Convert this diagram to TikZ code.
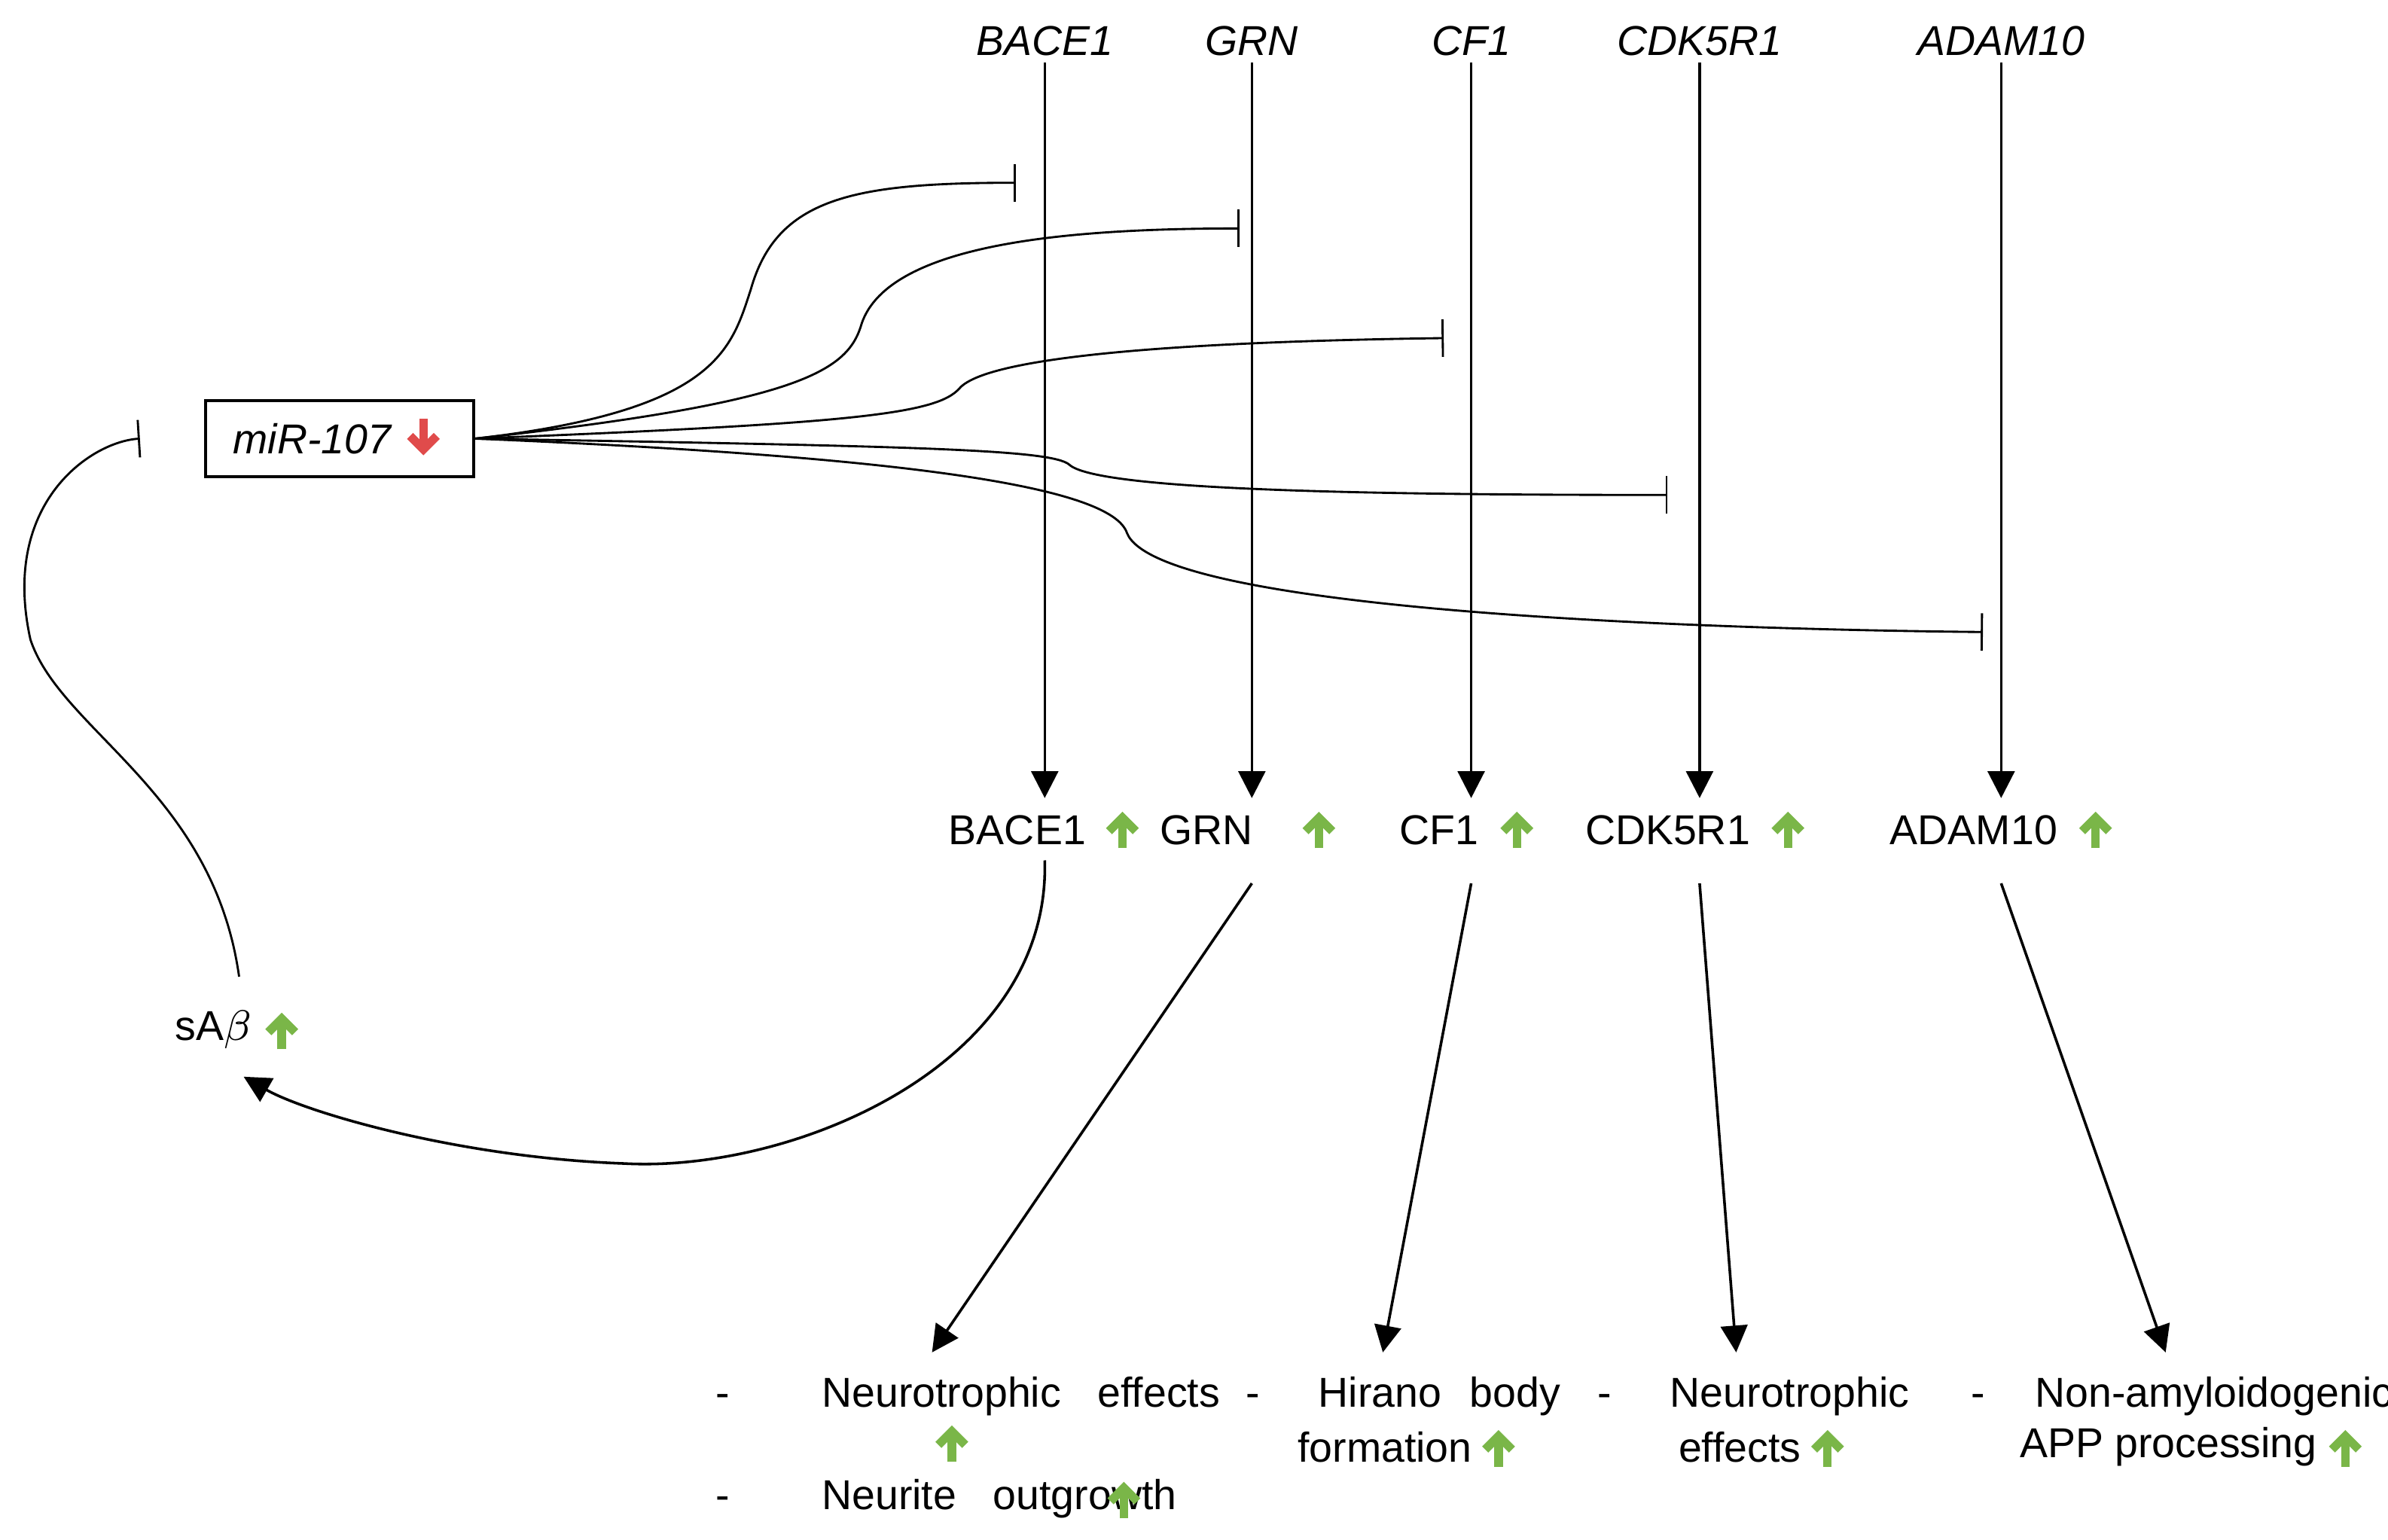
\documentclass[tikz,border=0pt]{standalone}
\usepackage{fontspec}
\setmainfont{Liberation Sans}
\usetikzlibrary{arrows.meta}
\definecolor{upgreen}{HTML}{7AB648}
\definecolor{downred}{HTML}{E04B4B}
\tikzset{
  lbl/.style={inner sep=1pt, font=\fontsize{7.8}{9.6}\selectfont},
  gene/.style={lbl, font=\fontsize{7.8}{9.6}\selectfont\itshape},
  act/.style={-{Triangle[length=5pt,width=5pt]}, line width=0.5pt},
  inh/.style={-{Bar[width=7pt]}, line width=0.4pt},
  pics/upar/.style={code={\draw[upgreen, line width=1.6pt, -{Straight Barb[length=2.5pt,width=5pt]}] (0,12) -- (0,-12);}},
  pics/dnar/.style={code={\draw[downred, line width=1.6pt, -{Straight Barb[length=2.5pt,width=5pt]}] (0,-12) -- (0,12);}}
}
\begin{document}
\begin{tikzpicture}[x=0.01cm,y=-0.01cm]
  \useasboundingbox (0,0) rectangle (1568,1011);
  % genes on top
  \node[gene] (tB) at (686,27) {BACE1};
  \node[gene] (tG) at (822,27) {GRN};
  \node[gene] (tC) at (966,27) {CF1};
  \node[gene] (tK) at (1116,27) {CDK5R1};
  \node[gene] (tA) at (1314,27) {ADAM10};
  % proteins
  \node[lbl] (mB) at (668,545) {BACE1};
  \node[lbl] (mG) at (792,545) {GRN};
  \node[lbl] (mC) at (945,545) {CF1};
  \node[lbl] (mK) at (1095,545) {CDK5R1};
  \node[lbl] (mA) at (1296,545) {ADAM10};
  \foreach \x in {737,866,996,1174,1376} \pic at (\x,545) {upar};
  \foreach \g in {B,G,C,K,A}
    \draw[act] (t\g.south) -- ([yshift=2pt]t\g.south |- m\g.north);
  % miR box
  \node[draw, line width=0.5pt, minimum width=1.76cm, minimum height=0.5cm] (mir) at (223,288) {};
  \node[lbl, font=\fontsize{7.8}{9.6}\selectfont\itshape] (mirt) at (205,288) {miR-107};
  \pic at (278,287) {dnar};
  \node[lbl] (sab) at (140,676) {sA$\beta$};
  \pic at (185,677) {upar};
  % inhibition ends
  \coordinate (iB) at (667,120);
  \coordinate (iG) at (814,150);
  \coordinate (iC) at (948,222);
  \coordinate (iK) at (1095,325);
  \coordinate (iA) at (1302,415);
  \draw[inh] (mir.east) .. controls (470,270) and (480,230) .. (493,190)
    .. controls (510,130) and (560,120) .. (iB);
  \draw[inh] (mir.east) .. controls (520,265) and (555,245) .. (565,215)
    .. controls (580,160) and (700,150) .. (iG);
  \draw[inh] (mir.east) .. controls (560,278) and (615,272) .. (630,255)
    .. controls (650,232) and (800,224) .. (iC);
  \draw[inh] (mir.east) .. controls (600,293) and (690,295) .. (702,305)
    .. controls (720,322) and (900,325) .. (iK);
  \draw[inh] (mir.east) .. controls (600,300) and (730,320) .. (740,350)
    .. controls (760,400) and (1100,413) .. (iA);
  \draw[inh] (sab.north -| 157,0) ++(0,-18) coordinate (sabtop)
    .. controls (140,520) and (40,480) .. (20,420)
    .. controls (0,330) and (60,290) .. ([xshift=-12pt]mir.west);
  % feedback
  \coordinate (sabin) at (160,707);
  \draw[act] (mB.south -| tB.south) ++(0,6)
    .. controls (690,700) and (520,770) .. (410,764)
    .. controls (300,760) and (200,730) .. (sabin);
  % effects
  \coordinate (eG) at (612,888);
  \coordinate (eC) at (908,888);
  \coordinate (eK) at (1140,888);
  \coordinate (eA) at (1422,888);
  \draw[act] ([yshift=-6pt]mG.south -| tG.south) -- (eG);
  \draw[act] ([yshift=-6pt]mC.south -| tC.south) -- (eC);
  \draw[act] ([yshift=-6pt]mK.south -| tK.south) -- (eK);
  \draw[act] ([yshift=-6pt]mA.south -| tA.south) -- (eA);
  \node[lbl, anchor=west] (fG1) at (466,917) {-\hspace{2.2em}Neurotrophic\hspace{0.6em} effects};
  \pic at (625,948) {upar};
  \node[lbl, anchor=west] (fG2) at (466,984) {-\hspace{2.2em}Neurite\hspace{0.6em} outgrowth};
  \pic at (738,985) {upar};
  \node[lbl, anchor=west] (fC1) at (814,917) {-\hspace{1.4em}Hirano\hspace{0.4em} body};
  \node[lbl, anchor=west] (fC2) at (848,950) {formation};
  \pic at (984,951) {upar};
  \node[lbl, anchor=west] (fK1) at (1045,917) {-\hspace{1.4em}Neurotrophic};
  \node[lbl, anchor=west] (fK2) at (1098,950) {effects};
  \pic at (1200,951) {upar};
  \node[lbl, anchor=west] (fA1) at (1290,917) {-\hspace{1.2em}Non-amyloidogenic};
  \node[lbl, anchor=west] (fA2) at (1322,950) {APP processing};
  \pic at (1540,951) {upar};
\end{tikzpicture}
\end{document}
